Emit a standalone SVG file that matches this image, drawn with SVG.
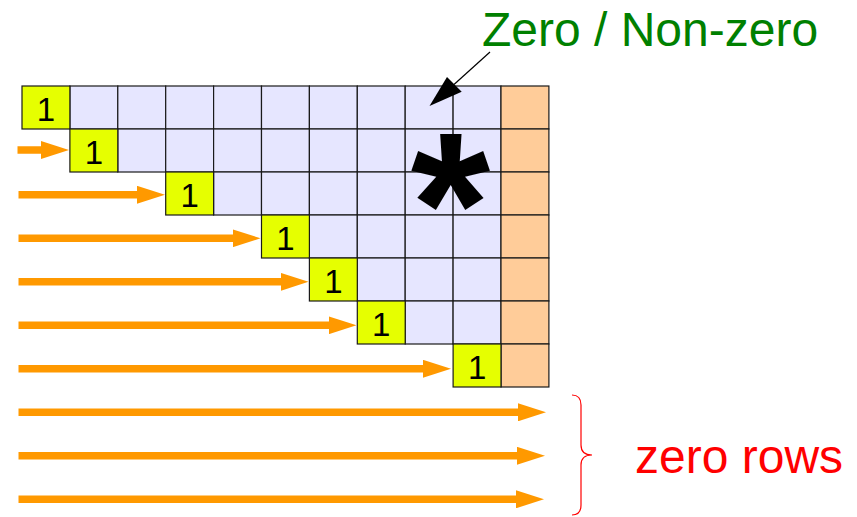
<svg xmlns="http://www.w3.org/2000/svg" width="857" height="517" viewBox="0 0 857 517">
<style>
.lav{fill:#e6e6ff;stroke:#1a1a1a;stroke-width:1.2}
.org{fill:#ffcc99;stroke:#1a1a1a;stroke-width:1.2}
.one rect{fill:#e6ff00;stroke:#1a1a1a;stroke-width:1.2}
.one text{font-family:"Liberation Sans",Arial,sans-serif;font-size:33px;fill:#000;text-anchor:middle}
.arr{stroke:#ff9900;stroke-width:7.5;fill:none;marker-end:url(#ah)}
</style>
<defs>
<marker id="ah" markerUnits="userSpaceOnUse" markerWidth="28" markerHeight="18" refX="14" refY="9" orient="auto" viewBox="0 0 28 18">
<path d="M0,0 L28,9 L0,18 z" fill="#ff9900"/>
</marker>
</defs>
<rect width="857" height="517" fill="#fff"/>
<g id="grid">
<!-- row 0 -->
<rect class="lav" x="69.9" y="86" width="47.9" height="43"/><rect class="lav" x="117.8" y="86" width="47.9" height="43"/><rect class="lav" x="165.7" y="86" width="47.9" height="43"/><rect class="lav" x="213.6" y="86" width="47.9" height="43"/><rect class="lav" x="261.5" y="86" width="47.9" height="43"/><rect class="lav" x="309.4" y="86" width="47.9" height="43"/><rect class="lav" x="357.3" y="86" width="47.9" height="43"/><rect class="lav" x="405.2" y="86" width="47.9" height="43"/><rect class="lav" x="453.1" y="86" width="47.9" height="43"/>
<!-- row 1 -->
<rect class="lav" x="117.8" y="129" width="47.9" height="43"/><rect class="lav" x="165.7" y="129" width="47.9" height="43"/><rect class="lav" x="213.6" y="129" width="47.9" height="43"/><rect class="lav" x="261.5" y="129" width="47.9" height="43"/><rect class="lav" x="309.4" y="129" width="47.9" height="43"/><rect class="lav" x="357.3" y="129" width="47.9" height="43"/><rect class="lav" x="405.2" y="129" width="47.9" height="43"/><rect class="lav" x="453.1" y="129" width="47.9" height="43"/>
<!-- row 2 -->
<rect class="lav" x="213.6" y="172" width="47.9" height="43"/><rect class="lav" x="261.5" y="172" width="47.9" height="43"/><rect class="lav" x="309.4" y="172" width="47.9" height="43"/><rect class="lav" x="357.3" y="172" width="47.9" height="43"/><rect class="lav" x="405.2" y="172" width="47.9" height="43"/><rect class="lav" x="453.1" y="172" width="47.9" height="43"/>
<!-- row 3 -->
<rect class="lav" x="309.4" y="215" width="47.9" height="43"/><rect class="lav" x="357.3" y="215" width="47.9" height="43"/><rect class="lav" x="405.2" y="215" width="47.9" height="43"/><rect class="lav" x="453.1" y="215" width="47.9" height="43"/>
<!-- row 4 -->
<rect class="lav" x="357.3" y="258" width="47.9" height="43"/><rect class="lav" x="405.2" y="258" width="47.9" height="43"/><rect class="lav" x="453.1" y="258" width="47.9" height="43"/>
<!-- row 5 -->
<rect class="lav" x="405.2" y="301" width="47.9" height="43"/><rect class="lav" x="453.1" y="301" width="47.9" height="43"/>
<!-- orange column -->
<rect class="org" x="501" y="86" width="47.9" height="43"/><rect class="org" x="501" y="129" width="47.9" height="43"/><rect class="org" x="501" y="172" width="47.9" height="43"/><rect class="org" x="501" y="215" width="47.9" height="43"/><rect class="org" x="501" y="258" width="47.9" height="43"/><rect class="org" x="501" y="301" width="47.9" height="43"/><rect class="org" x="501" y="344" width="47.9" height="43"/>
</g>
<g id="one-r0" class="one"><rect x="22" y="86" width="47.9" height="43"/><text x="46" y="120.5">1</text></g>
<g id="one-r1" class="one"><rect x="69.9" y="129" width="47.9" height="43"/><text x="93.9" y="163.5">1</text></g>
<g id="one-r2" class="one"><rect x="165.7" y="172" width="47.9" height="43"/><text x="189.7" y="206.5">1</text></g>
<g id="one-r3" class="one"><rect x="261.5" y="215" width="47.9" height="43"/><text x="285.5" y="249.5">1</text></g>
<g id="one-r4" class="one"><rect x="309.4" y="258" width="47.9" height="43"/><text x="333.4" y="292.5">1</text></g>
<g id="one-r5" class="one"><rect x="357.3" y="301" width="47.9" height="43"/><text x="381.3" y="335.5">1</text></g>
<g id="one-r6" class="one"><rect x="453.1" y="344" width="47.9" height="43"/><text x="477.1" y="378.5">1</text></g>
<g id="asterisk"><text x="450.5" y="275" font-family="'Liberation Sans',Arial,sans-serif" font-weight="bold" font-size="204" text-anchor="middle" fill="#000">*</text></g>
<g id="connectors">
<line class="arr" x1="17.5" y1="150" x2="55" y2="150"/>
<line class="arr" x1="18.5" y1="194.8" x2="151" y2="194.8"/>
<line class="arr" x1="18.5" y1="238.3" x2="246.5" y2="238.3"/>
<line class="arr" x1="18.5" y1="281.8" x2="294.5" y2="281.8"/>
<line class="arr" x1="18.5" y1="325.3" x2="342.5" y2="325.3"/>
<line class="arr" x1="18.5" y1="368.8" x2="437" y2="368.8"/>
<line class="arr" x1="18.5" y1="412.3" x2="532" y2="412.3"/>
<line class="arr" x1="18.5" y1="455.8" x2="531" y2="455.8"/>
<line class="arr" x1="18.5" y1="499.3" x2="530" y2="499.3"/>
<line x1="490" y1="52" x2="454" y2="84.5" stroke="#000" stroke-width="1.2"/>
<polygon points="429.5,106 447,77 461.7,91.7" fill="#000"/>
</g>
<g id="label-zero"><text x="482" y="46" font-family="'Liberation Sans',Arial,sans-serif" font-size="48" fill="#008000">Zero / Non-zero</text></g>
<g id="brace"><path d="M572,395 Q581,395 581,405 L581,445 Q581,455 592,455 Q581,455 581,465 L581,505 Q581,515 572,515" fill="none" stroke="#ff0000" stroke-width="1.2"/></g>
<g id="label-rows"><text x="635" y="472.5" font-family="'Liberation Sans',Arial,sans-serif" font-size="48" fill="#ff0000">zero rows</text></g>
</svg>
